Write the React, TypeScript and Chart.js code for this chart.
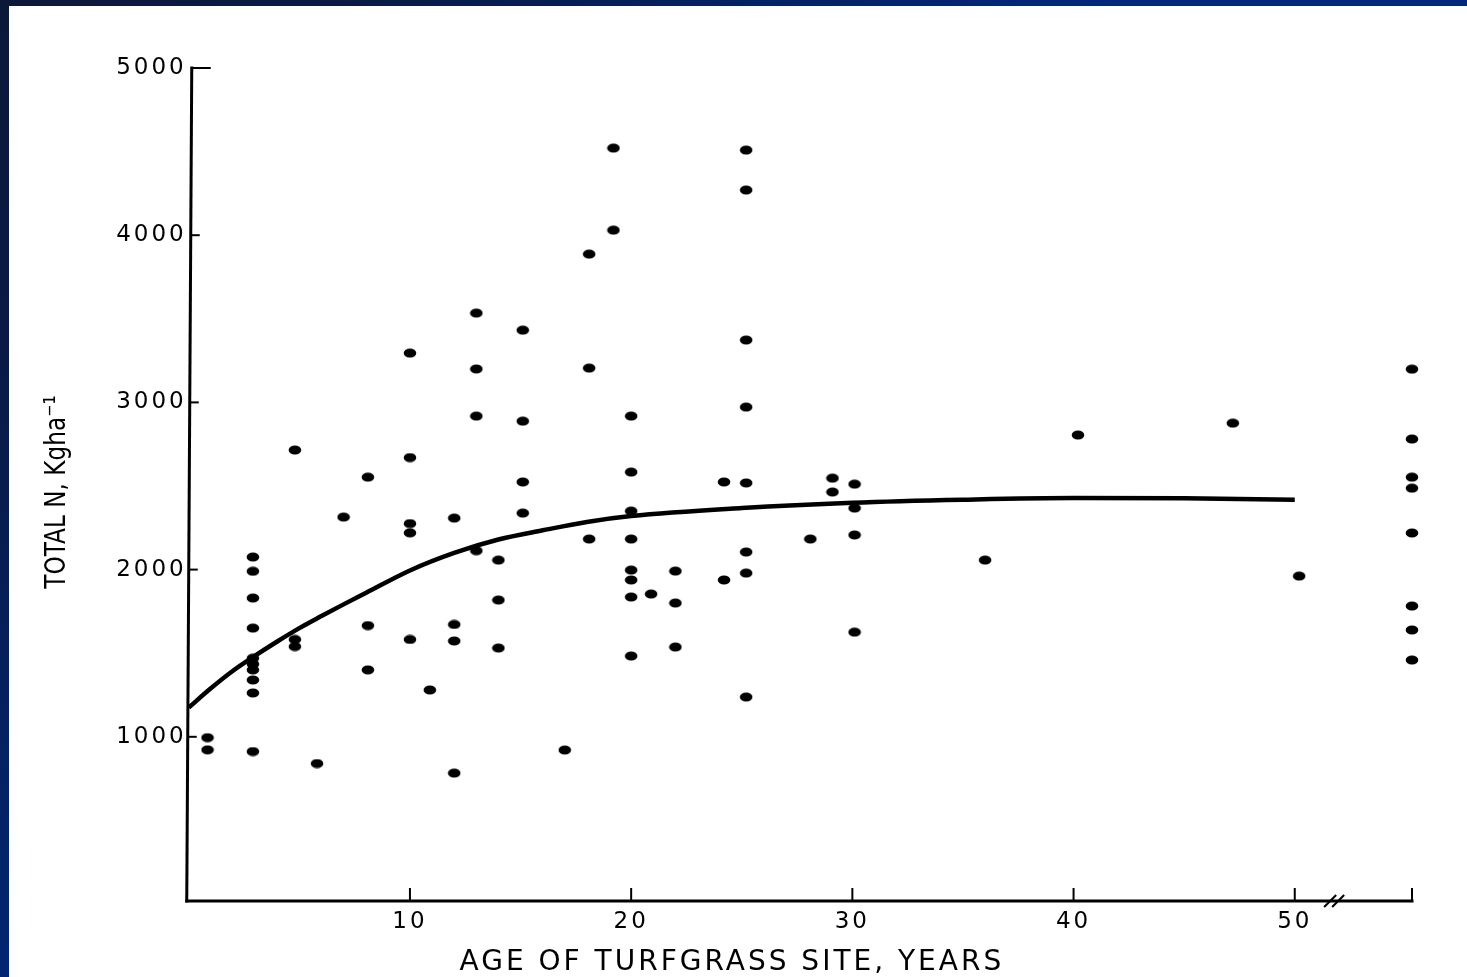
import React, { useEffect, useRef } from 'react';
import { Chart, registerables } from 'chart.js';

Chart.register(...registerables);

// Site ages (years) where observations were plotted
const siteAges = [
  0.85, 2.9, 4.8, 5.8, 7.0, 8.1, 10.0, 10.9, 12.0, 13.0, 14.0, 15.1, 17.0, 18.1,
  19.2, 20.0, 20.9, 22.0, 24.2, 25.2, 28.1, 29.1, 30.1, 36.0, 40.2, 47.2, 50.2, 55.3,
];

// Total N (kg/ha) observed at each site age
const totalNBySite = [
  [995, 922],
  [2075, 1990, 1830, 1650, 1470, 1435, 1400, 1340, 1262, 912],
  [2715, 1582, 1540],
  [840],
  [2314],
  [2553, 1665, 1400],
  [3295, 2670, 2275, 2220, 1582],
  [1280],
  [2308, 1672, 1573, 783],
  [3534, 3200, 2918, 2113],
  [2057, 1818, 1531],
  [3432, 2888, 2524, 2338],
  [921],
  [3887, 3205, 2183],
  [4521, 4030],
  [2918, 2583, 2350, 2183, 1997, 1938, 1836, 1483],
  [1854],
  [1991, 1800, 1537],
  [2524, 1938],
  [4509, 4270, 3373, 2972, 2518, 2105, 1979, 1238],
  [2183],
  [2547, 2464],
  [2511, 2368, 2207, 1626],
  [2057],
  [2805],
  [2876],
  [1961],
  [3199, 2781, 2553, 2487, 2219, 1782, 1639, 1459],
];

// Fitted curve
const curveAge = [0, 1, 2, 3, 4, 5, 6, 7, 8, 10, 12, 14, 16, 18, 20, 25, 30, 35, 40, 45, 50];
const curveN = [
  1175, 1290, 1395, 1485, 1570, 1650, 1722, 1792, 1860, 1995, 2100, 2180, 2235, 2285,
  2320, 2368, 2400, 2418, 2428, 2426, 2418,
];

const xTickValues = [10, 20, 30, 40, 50];
const yTickValues = [1000, 2000, 3000, 4000, 5000];
const xAxisEnd = 55.3;
const yAxisTop = 5000;
const axisBreakAt = 51.6;

const xTitle = 'AGE OF TURFGRASS SITE, YEARS';
const yTitle = 'TOTAL N, Kgha\u207B\u00B9';

const paperPlugin = {
  id: 'paper',
  beforeDraw(chart: any) {
    chart.ctx.letterSpacing = '3px';
  },
  afterDraw(chart: any) {
    const { ctx, chartArea, scales } = chart;
    const xs = scales.x;
    const ys = scales.y;
    const x0 = xs.getPixelForValue(0);
    const yTop = ys.getPixelForValue(yAxisTop);
    const yBot = ys.getPixelForValue(0);
    const axisY = yBot - 3;
    const xEnd = xs.getPixelForValue(xAxisEnd);
    const axisXAt = (py: number) => x0 + 3 - 5 * ((py - yTop) / (axisY - yTop));

    ctx.save();
    ctx.letterSpacing = '0px';
    ctx.strokeStyle = '#000';
    ctx.lineCap = 'square';

    // y axis (slightly slanted like the scan)
    ctx.lineWidth = 3;
    ctx.beginPath();
    ctx.moveTo(x0 + 3, yTop);
    ctx.lineTo(x0 - 2, axisY);
    ctx.stroke();

    // x axis
    ctx.lineWidth = 3;
    ctx.beginPath();
    ctx.moveTo(x0 - 2, axisY);
    ctx.lineTo(xEnd, axisY);
    ctx.stroke();

    // y ticks (inward)
    ctx.lineWidth = 2;
    ctx.lineCap = 'butt';
    yTickValues.forEach((v) => {
      const py = ys.getPixelForValue(v);
      const ax = axisXAt(py);
      ctx.beginPath();
      ctx.moveTo(ax, py);
      ctx.lineTo(ax + (v === yAxisTop ? 19 : 9), py);
      ctx.stroke();
    });

    // x ticks (inward)
    [...xTickValues, xAxisEnd].forEach((v) => {
      const px = xs.getPixelForValue(v);
      ctx.beginPath();
      ctx.moveTo(px, axisY);
      ctx.lineTo(px, axisY - 13);
      ctx.stroke();
    });

    // axis break marks
    const bx = xs.getPixelForValue(axisBreakAt);
    ctx.lineWidth = 2;
    [0, 8].forEach((d) => {
      ctx.beginPath();
      ctx.moveTo(bx + d - 6, axisY + 6);
      ctx.lineTo(bx + d + 6, axisY - 6);
      ctx.stroke();
    });

    // x title
    ctx.fillStyle = '#000';
    ctx.font = '28px "DejaVu Sans"';
    ctx.letterSpacing = '3px';
    ctx.textAlign = 'center';
    ctx.textBaseline = 'middle';
    ctx.fillText(
      xTitle,
      chartArea.left + 0.444 * (chartArea.right - chartArea.left),
      chartArea.bottom + 59
    );

    // y title
    ctx.letterSpacing = '0px';
    ctx.translate(chartArea.left - 131, (chartArea.top + chartArea.bottom) / 2 + 6);
    ctx.rotate(-Math.PI / 2);
    ctx.scale(0.8, 1);
    ctx.font = '29px "DejaVu Sans"';
    ctx.fillText(yTitle, 0, 0);
    ctx.restore();
  },
};

export default function App() {
  const ref = useRef<HTMLCanvasElement>(null);

  useEffect(() => {
    const canvas = ref.current;
    if (!canvas) return;

    const dot = document.createElement('canvas');
    dot.width = 14;
    dot.height = 10;
    const dctx = dot.getContext('2d')!;
    dctx.fillStyle = '#000';
    dctx.beginPath();
    dctx.ellipse(7, 5, 6.3, 4.5, 0, 0, Math.PI * 2);
    dctx.fill();

    const points: { x: number; y: number }[] = [];
    siteAges.forEach((age, i) => {
      totalNBySite[i].forEach((n) => points.push({ x: age, y: n }));
    });
    const curve = curveAge.map((a, i) => ({ x: a, y: curveN[i] }));

    const chart = new Chart(canvas, {
      type: 'scatter',
      data: {
        datasets: [
          {
            label: 'Observed',
            data: points,
            pointStyle: dot as any,
            pointRadius: 5,
            backgroundColor: '#000',
            borderColor: '#000',
            clip: false as any,
          },
          {
            label: 'Fitted',
            data: curve,
            showLine: true,
            borderColor: '#000',
            borderWidth: 4.5,
            pointRadius: 0,
            cubicInterpolationMode: 'monotone',
            clip: false as any,
          } as any,
        ],
      },
      options: {
        responsive: false,
        animation: false,
        devicePixelRatio: 1,
        layout: { padding: { left: 0, top: 62, right: 55, bottom: 0 } },
        plugins: {
          legend: { display: false },
          tooltip: { enabled: false },
          title: { display: false },
        },
        scales: {
          x: {
            type: 'linear',
            min: 0,
            max: xAxisEnd,
            grid: { display: false, drawTicks: false },
            border: { display: false },
            afterBuildTicks: (scale: any) => {
              scale.ticks = xTickValues.map((v) => ({ value: v }));
            },
            afterFit: (scale: any) => {
              scale.height = 73;
            },
            ticks: {
              color: '#000',
              padding: 4,
              maxRotation: 0,
              autoSkip: false,
              font: { family: '"DejaVu Sans"', size: 23 },
              callback: (v: any) => String(v),
            },
          },
          y: {
            type: 'linear',
            min: 0,
            max: yAxisTop,
            grid: { display: false, drawTicks: false },
            border: { display: false },
            afterBuildTicks: (scale: any) => {
              scale.ticks = yTickValues.map((v) => ({ value: v }));
            },
            afterFit: (scale: any) => {
              scale.width = 179.75;
            },
            ticks: {
              color: '#000',
              padding: 2,
              autoSkip: false,
              font: { family: '"DejaVu Sans"', size: 23 },
              callback: (v: any) => String(v),
            },
          },
        },
      },
      plugins: [paperPlugin],
    });

    return () => chart.destroy();
  }, []);

  return (
    <div
      style={{
        position: 'fixed',
        left: 0,
        top: 0,
        width: 1467,
        height: 977,
        overflow: 'hidden',
        background:
          'radial-gradient(circle at 0px 0px, #0b1838 0px, #0a1a44 350px, #00287a 1100px)',
      }}
    >
      <div
        style={{
          position: 'absolute',
          left: 9,
          top: 6,
          width: 1458,
          height: 971,
          background: '#fff',
        }}
      >
        <canvas
          ref={ref}
          width={1458}
          height={971}
          style={{ display: 'block', width: 1458, height: 971 }}
        />
      </div>
    </div>
  );
}
